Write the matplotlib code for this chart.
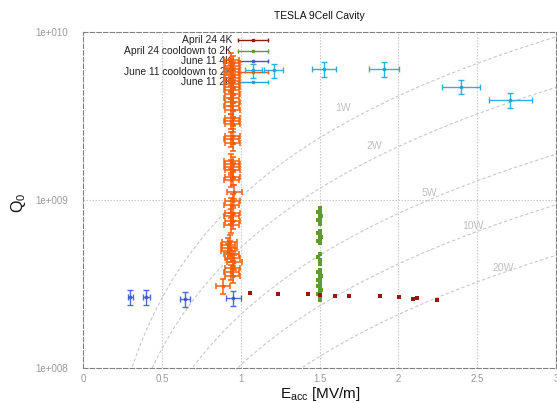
import numpy as np
import matplotlib
matplotlib.use("Agg")
import matplotlib.pyplot as plt

plt.rcParams['font.family'] = ['Liberation Sans', 'DejaVu Sans']
plt.rcParams['mathtext.fontset'] = 'custom'
plt.rcParams['mathtext.rm'] = 'Liberation Sans'
plt.rcParams['mathtext.it'] = 'Liberation Sans'

# ---------------- data ----------------
title = "TESLA 9Cell Cavity"
series_labels = ["April 24 4K", "April 24 cooldown to 2K", "June 11 4K",
                 "June 11 cooldown to 2K", "June 11 2K"]

apr24_4k_E = [1.058, 1.238, 1.430, 1.501, 1.600, 1.684, 1.881, 2.006, 2.090, 2.121, 2.245]
apr24_4k_Q = [2.79e8, 2.75e8, 2.74e8, 2.73e8, 2.69e8, 2.69e8, 2.68e8, 2.65e8, 2.56e8, 2.60e8, 2.54e8]

apr24_2k_E = [1.50, 1.50, 1.49, 1.50, 1.51, 1.50, 1.49, 1.50, 1.50,
              1.50, 1.49, 1.50, 1.51, 1.50, 1.49, 1.50,
              1.50, 1.49, 1.50, 1.50,
              1.50, 1.49, 1.50, 1.51, 1.50, 1.49, 1.50, 1.50, 1.49, 1.50,
              1.51, 1.50, 1.49, 1.50, 1.50, 1.50]
apr24_2k_Q = [8.97e8, 8.73e8, 8.49e8, 8.26e8, 8.03e8, 7.81e8, 7.60e8, 7.40e8, 7.20e8,
              6.54e8, 6.36e8, 6.19e8, 6.02e8, 5.86e8, 5.70e8, 5.54e8,
              4.77e8, 4.58e8, 4.40e8, 4.16e8,
              3.83e8, 3.73e8, 3.62e8, 3.53e8, 3.43e8, 3.34e8, 3.25e8, 3.16e8, 3.08e8, 2.99e8,
              2.91e8, 2.84e8, 2.76e8, 2.69e8, 2.61e8, 2.54e8]

jun11_4k_E = [0.300, 0.402, 0.646, 0.952]
jun11_4k_Q = [2.63e8, 2.64e8, 2.58e8, 2.61e8]

jun11_cd_E = [0.94, 0.95, 0.94, 0.95, 0.94, 0.95, 0.94, 0.95, 0.94, 0.95, 0.94,
              0.95, 0.94, 0.95, 0.94, 0.95, 0.95, 0.94, 0.95, 0.95, 0.94, 0.95,
              0.94, 0.95, 0.94, 0.95, 0.95, 0.94, 0.96, 0.95, 0.94, 0.95, 0.94,
              0.95, 0.94, 0.93, 0.92, 0.93, 0.92, 0.94, 0.95, 0.96, 0.95, 0.94,
              0.95, 0.89]
jun11_cd_Q = [6.81e9, 6.54e9, 6.28e9, 6.02e9, 5.78e9, 5.55e9, 5.32e9, 5.11e9, 4.90e9, 4.71e9, 4.52e9,
              4.28e9, 4.05e9, 3.83e9, 3.63e9, 3.43e9, 3.08e9, 2.95e9, 2.83e9, 2.40e9, 2.30e9, 2.18e9,
              1.71e9, 1.64e9, 1.57e9, 1.51e9, 1.37e9, 1.32e9, 1.12e9, 0.99e9, 9.34e8, 8.36e8, 8.02e8,
              7.48e8, 7.10e8, 5.61e8, 5.40e8, 5.19e8, 4.98e8, 4.78e8, 4.52e8, 4.28e8, 3.94e8, 3.73e8,
              3.54e8, 3.08e8]

jun11_2k_E = [1.08, 1.21, 1.53, 1.91, 2.40, 2.71]
jun11_2k_Q = [5.90e9, 5.90e9, 6.00e9, 6.00e9, 4.72e9, 3.94e9]

E_REL_ERR = 0.05
Q_REL_ERR = 0.10

powers = [1, 2, 5, 10, 20]
power_labels = ["1W", "2W", "5W", "10W", "20W"]
power_label_pos = [(1.651, 3.53e9), (1.848, 2.11e9), (2.197, 1.10e9), (2.470, 7.0e8), (2.667, 3.96e8)]

# TESLA cavity constants: active length [m], R/Q [Ohm]
L_ACT = 1.038
R_OVER_Q = 1036.0

xticks = [0, 0.5, 1, 1.5, 2, 2.5, 3]
xticklabels = ["0", "0.5", "1", "1.5", "2", "2.5", "3"]
yticks = [1e8, 1e9, 1e10]
yticklabels = ["1e+008", "1e+009", "1e+010"]

colors = ["#8e1b0e", "#5e9c2f", "#3d5bd1", "#f85c08", "#1aa6dc"]

# ---------------- figure ----------------
W, H = 557, 403
fig = plt.figure(figsize=(W / 100, H / 100), dpi=100)
axL, axR, axT, axB = 83, 556, 32, 368
ax = fig.add_axes([axL / W, 1 - axB / H, (axR - axL) / W, (axB - axT) / H])
ax.set_yscale('log')
ax.set_xlim(0, 3)
ax.set_ylim(1e8, 1e10)

# grid
for xv in xticks[1:-1]:
    ax.axvline(xv, color='#c4c4c4', lw=0.8, ls=(0, (1.2, 1.5)), zorder=0)
ax.axhline(1e9, color='#c4c4c4', lw=0.8, ls=(0, (1.2, 1.5)), zorder=0)

# iso-power curves
Eg = np.linspace(0.05, 3.0, 300)
for P in powers:
    Qg = (Eg * 1e6 * L_ACT) ** 2 / (R_OVER_Q * P)
    ax.plot(Eg, Qg, color='#c8c8c8', lw=0.8, ls=(0, (3, 2)), zorder=1)
for lab, (xe, yq) in zip(power_labels, power_label_pos):
    ax.text(xe, yq, lab, color='#c0c0c0', fontsize=7.5, ha='center', va='center', zorder=1)

# legend (manual, gnuplot style)
leg_rows = [0.976, 0.944, 0.913, 0.882, 0.852]
tx = (232 - axL) / (axR - axL)
lx0 = (238 - axL) / (axR - axL)
lx1 = (268 - axL) / (axR - axL)
for lab, c, yr in zip(series_labels, colors, leg_rows):
    ax.text(tx, yr, lab, transform=ax.transAxes, ha='right', va='center',
            fontsize=7.4, color='#222222', zorder=2)
    ax.plot([lx0, lx1], [yr, yr], transform=ax.transAxes, color=c, lw=1.0, zorder=2)
    ax.plot([lx0, lx1], [yr, yr], transform=ax.transAxes, color=c, lw=0,
            marker='|', ms=3.5, mew=1.0, zorder=2)
    ax.plot([(lx0 + lx1) / 2], [yr], transform=ax.transAxes, color=c,
            marker='s', ms=1.6, zorder=2)

# data
E = np.array(apr24_4k_E); Q = np.array(apr24_4k_Q)
ax.plot(E, Q, ls='none', marker='s', ms=3.2, color=colors[0], mew=0, zorder=4)

E = np.array(apr24_2k_E); Q = np.array(apr24_2k_Q)
ax.plot(E, Q, ls='none', marker='s', ms=3.4, color=colors[1], mew=0, zorder=3)

for Ev, Qv, c, z, lw in [(jun11_4k_E, jun11_4k_Q, colors[2], 5, 1.0),
                         (jun11_cd_E, jun11_cd_Q, colors[3], 6, 1.2),
                         (jun11_2k_E, jun11_2k_Q, colors[4], 7, 1.0)]:
    E = np.array(Ev); Q = np.array(Qv)
    ax.errorbar(E, Q, xerr=E * E_REL_ERR, yerr=Q * Q_REL_ERR, fmt='s', ms=1.6,
                color=c, ecolor=c, elinewidth=lw, capsize=2.2, capthick=lw,
                alpha=0.9, zorder=z)

# axes styling
for s in ax.spines.values():
    s.set_color('#808080')
    s.set_linewidth(0.8)
    s.set_linestyle((0, (4, 2)))
ax.set_xticks(xticks)
ax.set_xticklabels(xticklabels)
ax.set_yticks(yticks)
ax.set_yticklabels(yticklabels)
ax.minorticks_off()
ax.yaxis.set_minor_locator(matplotlib.ticker.NullLocator())
ax.tick_params(axis='both', length=0, labelsize=7, labelcolor='#999999')
ax.tick_params(axis='x', pad=4)
ax.tick_params(axis='y', pad=11)

fig.text(319.5 / W, 1 - 16 / H, title, ha='center', va='center', fontsize=7.5, color='#111111')
fig.text(320 / W, 1 - 394 / H, r'$\mathregular{E_{acc}}$ [MV/m]', ha='center', va='center',
         fontsize=11, color='#111111')
fig.text(19 / W, 1 - 203 / H, r'$\mathregular{Q_0}$', ha='center', va='center', rotation=90,
         fontsize=11.5, color='#111111')

fig.savefig('out.png', dpi=100)
